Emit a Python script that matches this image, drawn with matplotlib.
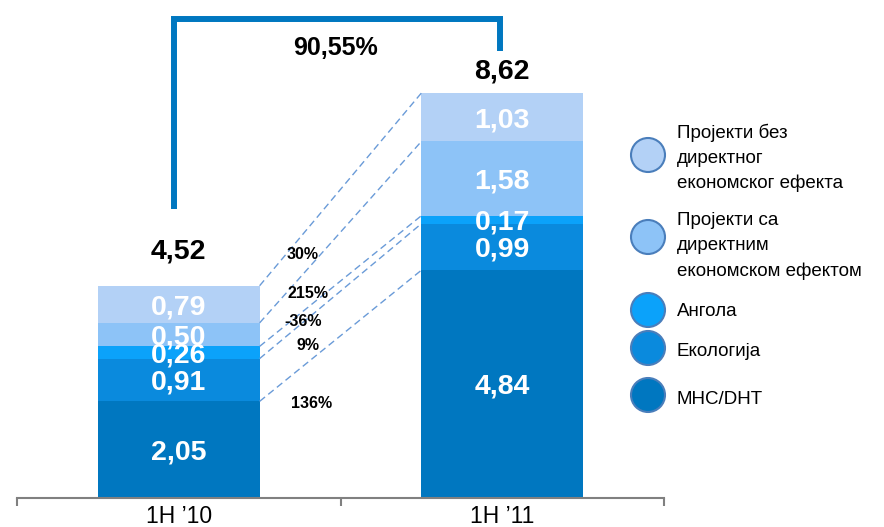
import matplotlib
matplotlib.use("Agg")
import matplotlib.pyplot as plt
from matplotlib.patches import Circle
import numpy as np

plt.rcParams['font.family'] = ['Liberation Sans', 'DejaVu Sans']

# ---- data ----
categories = ['1H ’10', '1H ’11']
series_names = ['МНС/DHT', 'Екологија', 'Ангола',
                'Пројекти са\nдиректним\nекономском ефектом',
                'Пројекти без\nдиректног\nекономског ефекта']
values_1h10 = [2.05, 0.91, 0.26, 0.50, 0.79]
values_1h11 = [4.84, 0.99, 0.17, 1.58, 1.03]
value_labels_1h10 = ['2,05', '0,91', '0,26', '0,50', '0,79']
value_labels_1h11 = ['4,84', '0,99', '0,17', '1,58', '1,03']
total_labels = ['4,52', '8,62']
growth_labels = ['136%', '9%', '-36%', '215%', '30%']
total_growth_label = '90,55%'

colors = ['#0077C0', '#0A8ADD', '#0BA2FA', '#8DC3F7', '#B3D1F6']

fig = plt.figure(figsize=(8.84, 5.27), dpi=100)
ax = fig.add_axes([17 / 884, (527 - 497.7) / 527, 647 / 884, 470 / 527])
ax.set_xlim(-0.5, 1.5)
ax.set_ylim(0, 10)

x = np.arange(len(categories))
width = 0.5
data = [values_1h10, values_1h11]
labels = [value_labels_1h10, value_labels_1h11]

cums = []
for ci in range(len(categories)):
    bottom = 0.0
    cum = [0.0]
    for si in range(len(series_names)):
        v = data[ci][si]
        ax.bar(x[ci], v, width, bottom=bottom, color=colors[si], linewidth=0)
        ax.text(x[ci], bottom + v / 2, labels[ci][si], ha='center', va='center_baseline',
                color='white', fontsize=20.5, fontweight='bold', zorder=5)
        bottom += v
        cum.append(bottom)
    cums.append(cum)

totals = [cums[0][-1], cums[1][-1]]
total_offsets = [0.80, 0.53]
for ci in range(len(categories)):
    ax.text(x[ci], totals[ci] + total_offsets[ci], total_labels[ci], ha='center',
            va='center_baseline', fontsize=20.5, fontweight='bold', color='black')

# dashed connectors between segment boundaries
for i in range(1, len(series_names) + 1):
    ax.plot([x[0] + width / 2, x[1] - width / 2], [cums[0][i], cums[1][i]],
            linestyle=(0, (5, 3)), color='#6A9BD8', linewidth=1.0, zorder=1)

# growth labels
growth_pos = [(0.412, 2.04), (0.40, 3.27), (0.384, 3.78), (0.40, 4.38), (0.384, 5.21)]
for lab, (gx, gy) in zip(growth_labels, growth_pos):
    ax.text(gx, gy, lab, ha='center', va='center_baseline', fontsize=11.5,
            fontweight='bold', color='black')

# bracket
bx_left, bx_right = -0.015, 0.993
y_top = 10.19
ax.plot([bx_left, bx_left, bx_right, bx_right],
        [totals[0] + 1.63, y_top, y_top, totals[1] + 0.89],
        color='#0077C0', linewidth=4.3, solid_joinstyle='miter', solid_capstyle='butt',
        clip_on=False)
ax.text(0.483, 9.63, total_growth_label, ha='center', va='center_baseline',
        fontsize=18, fontweight='bold', color='black')

# axes styling
for s in ['top', 'right', 'left']:
    ax.spines[s].set_visible(False)
ax.spines['bottom'].set_color('#808080')
ax.spines['bottom'].set_linewidth(1.5)
ax.set_yticks([])
ax.set_xticks([-0.5, 0.5, 1.5])
ax.set_xticklabels([])
ax.tick_params(axis='x', which='major', direction='out', length=5.5, width=1.5, color='#808080')
ax.set_xticks(x, minor=True)
ax.set_xticklabels(categories, minor=True, fontsize=16.5)
ax.tick_params(axis='x', which='minor', length=0, pad=5)

# legend (manual, pixel coordinates overlay)
lax = fig.add_axes([0, 0, 1, 1])
lax.set_xlim(0, 884)
lax.set_ylim(527, 0)
lax.axis('off')
circle_y = [395, 348, 310, 237, 155]
text_y = [400, 352, 312, 246, 158]
for si in range(len(series_names)):
    lax.add_patch(Circle((648, circle_y[si]), 17, facecolor=colors[si],
                         edgecolor='#4A7EBB', linewidth=1.5))
    lax.text(677, text_y[si], series_names[si], ha='left', va='center', fontsize=13.5,
             color='black', linespacing=1.6)

fig.savefig('out.png', dpi=100)
